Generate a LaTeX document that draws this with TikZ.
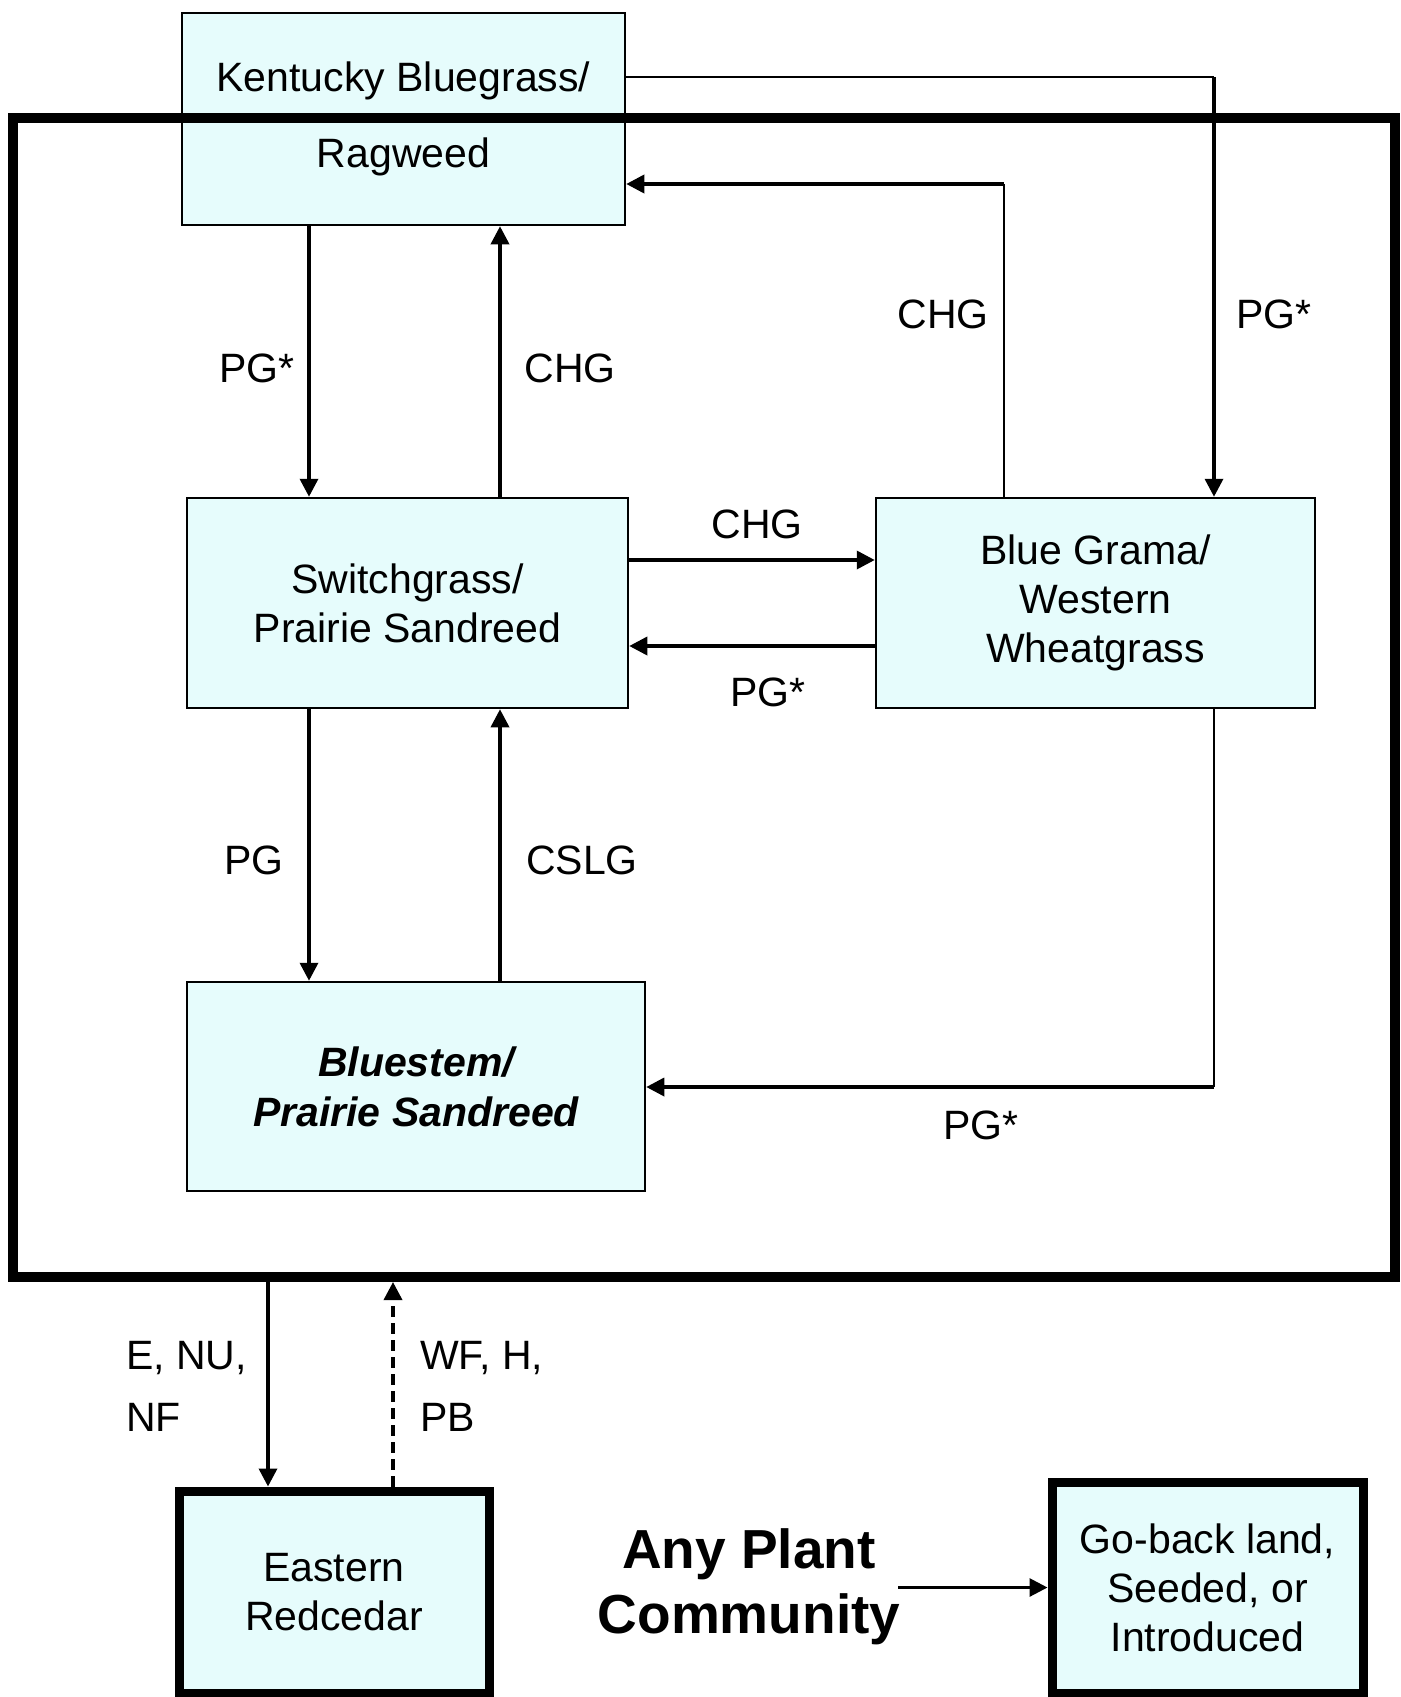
\documentclass[tikz,border=0pt]{standalone}
\usepackage{fontspec}
\setmainfont{Liberation Sans}
\usetikzlibrary{arrows.meta}
\definecolor{boxfill}{RGB}{230,252,252}
\tikzset{
 box/.style={draw, line width=2.5pt, fill=boxfill, align=center, inner sep=0pt, font=\fontsize{41}{49}\selectfont},
 heavybox/.style={box, line width=9pt},
 lbl/.style={font=\fontsize{41}{49}\selectfont, inner sep=0pt},
 arr/.style={line width=3.5pt, -{Triangle[length=18pt,width=18pt]}},
 thinl/.style={line width=2pt},
}
\begin{document}
\begin{tikzpicture}[x=1pt,y=-1pt]
\useasboundingbox (0,0) rectangle (1400,1697);
\fill[white] (0,0) rectangle (1400,1697);

% boxes
\node[box, minimum width=443pt, minimum height=212pt] (kb) at (403.5,119) {Kentucky Bluegrass/\\[27pt]Ragweed};
\node[draw, line width=10pt, minimum width=1382pt, minimum height=1159pt, inner sep=0pt] (frame) at (704,697.5) {};
\node[box, minimum width=441pt, minimum height=210pt] (sw) at (407.5,603) {Switchgrass/\\Prairie Sandreed};
\node[box, minimum width=439pt, minimum height=210pt] (bg) at (1095.5,603) {Blue Grama/\\Western\\Wheatgrass};
\node[box, minimum width=458pt, minimum height=209pt, font=\fontsize{41}{50}\selectfont\bfseries\itshape] (bs) at (416,1086.5) {Bluestem/\\Prairie Sandreed};
\node[heavybox, minimum width=310pt, minimum height=202pt] (er) at (334,1592) {Eastern\\Redcedar};
\node[heavybox, minimum width=311pt, minimum height=211pt] (gb) at (1207.5,1587.5) {Go-back land,\\Seeded, or\\Introduced};
\node[align=center, inner sep=0pt, font=\fontsize{55}{65}\selectfont\bfseries] (apc) at (749,1587) {Any Plant\\Community};

% helper coordinates
\coordinate (xa) at (309,0);
\coordinate (xb) at (500,0);
\coordinate (ya) at (0,560);
\coordinate (yb) at (0,646);
\coordinate (xe) at (268,0);
\coordinate (xf) at (393,0);
\coordinate (t1) at (1214,77);
\coordinate (c1) at (1004,184);
\coordinate (b1) at (1214,1087);
\coordinate (a0) at (898,1587.5);

% connectors
\draw[thinl] (t1 -| kb.east) -- (t1);
\draw[arr] (t1) -- (t1 |- bg.north);
\draw[thinl] (c1 |- bg.north) -- (c1);
\draw[arr] (c1) -- (c1 -| kb.east);
\draw[arr] (kb.south -| xa) -- (sw.north -| xa);
\draw[arr] (sw.north -| xb) -- (kb.south -| xb);
\draw[arr] (sw.east |- ya) -- (bg.west |- ya);
\draw[arr] (bg.west |- yb) -- (sw.east |- yb);
\draw[arr] (sw.south -| xa) -- (bs.north -| xa);
\draw[arr] (bs.north -| xb) -- (sw.south -| xb);
\draw[thinl] (b1 |- bg.south) -- (b1);
\draw[arr] (b1) -- (b1 -| bs.east);
\draw[arr] (frame.south -| xe) -- (er.north -| xe);
\draw[arr, dash pattern=on 11pt off 6pt] (er.north -| xf) -- (frame.south -| xf);
\draw[arr, line width=3pt] (a0) -- (gb.west);

% labels
\node[lbl] (l1) at (257,368) {PG*};
\node[lbl] (l2) at (570,368) {CHG};
\node[lbl] (l3) at (943,314) {CHG};
\node[lbl] (l4) at (1274,314) {PG*};
\node[lbl] (l5) at (757,524) {CHG};
\node[lbl] (l6) at (768,692) {PG*};
\node[lbl] (l7) at (254,860) {PG};
\node[lbl] (l8) at (582,860) {CSLG};
\node[lbl] (l9) at (981,1125) {PG*};
\node[lbl, anchor=west] (l10) at (126,1358) {E, NU,};
\node[lbl, anchor=west] (l11) at (126,1417) {NF};
\node[lbl, anchor=west] (l12) at (420,1358) {WF, H,};
\node[lbl, anchor=west] (l13) at (420,1417) {PB};
\end{tikzpicture}
\end{document}
